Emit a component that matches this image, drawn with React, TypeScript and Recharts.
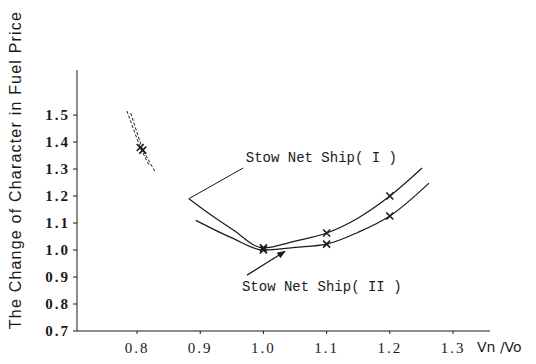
import {
  ComposedChart,
  Line,
  ReferenceDot,
  ReferenceLine,
  Scatter,
  XAxis,
  YAxis,
} from "recharts";

type Pt = { x: number; y: number };

const INK = "#1a1a1a";

const X_TICKS = [0.8, 0.9, 1.0, 1.1, 1.2, 1.3];
const Y_TICKS = [0.7, 0.8, 0.9, 1.0, 1.1, 1.2, 1.3, 1.4, 1.5];

// short dashed stubs near Vn/Vo = 0.8
const shipIEarly: Pt[] = [
  { x: 0.784, y: 1.515 },
  { x: 0.805, y: 1.38 },
  { x: 0.82, y: 1.31 },
];
const shipIIEarly: Pt[] = [
  { x: 0.79, y: 1.507 },
  { x: 0.809, y: 1.37 },
  { x: 0.828, y: 1.293 },
];

const shipI: Pt[] = [
  { x: 0.882, y: 1.19 },
  { x: 0.92, y: 1.125 },
  { x: 0.95, y: 1.078 },
  { x: 1.0, y: 1.008 },
  { x: 1.05, y: 1.033 },
  { x: 1.1, y: 1.063 },
  { x: 1.15, y: 1.119 },
  { x: 1.2, y: 1.2 },
  { x: 1.251, y: 1.304 },
];
const shipII: Pt[] = [
  { x: 0.893, y: 1.11 },
  { x: 0.95, y: 1.045 },
  { x: 1.0, y: 1.0 },
  { x: 1.05, y: 1.01 },
  { x: 1.1, y: 1.022 },
  { x: 1.15, y: 1.066 },
  { x: 1.2, y: 1.126 },
  { x: 1.262, y: 1.248 },
];

const marksI: Pt[] = [
  { x: 0.805, y: 1.38 },
  { x: 1.0, y: 1.008 },
  { x: 1.1, y: 1.063 },
  { x: 1.2, y: 1.2 },
];
const marksII: Pt[] = [
  { x: 0.809, y: 1.37 },
  { x: 1.0, y: 1.0 },
  { x: 1.1, y: 1.022 },
  { x: 1.2, y: 1.126 },
];

const pointerI: Pt[] = [
  { x: 0.882, y: 1.19 },
  { x: 0.968, y: 1.304 },
];
const pointerII: Pt[] = [
  { x: 0.974, y: 0.907 },
  { x: 1.034, y: 0.995 },
];
const labelI: Pt = { x: 0.972, y: 1.344 };
const labelII: Pt = { x: 0.966, y: 0.868 };

const tickFont = {
  fontFamily: "'Liberation Serif', serif",
  fontSize: 15,
  fill: INK,
  letterSpacing: 2,
} as const;

const noteFont = {
  fontFamily: "'Liberation Mono', monospace",
  fontSize: 14,
  fill: INK,
} as const;

function Cross(props: { cx?: number; cy?: number }) {
  const { cx = 0, cy = 0 } = props;
  const s = 3.5;
  return (
    <path
      d={`M${cx - s},${cy - s}L${cx + s},${cy + s}M${cx + s},${cy - s}L${cx - s},${cy + s}`}
      stroke={INK}
      strokeWidth={1.6}
    />
  );
}

export default function App() {
  return (
    <div style={{ position: "absolute", left: 0, top: 0, background: "#fff" }}>
      <ComposedChart
        width={536}
        height={364}
        margin={{ top: 70, right: 46, bottom: 0, left: 0 }}
      >
        <defs>
          <marker
            id="arrowHead"
            viewBox="0 0 10 10"
            refX="9"
            refY="5"
            markerWidth="7"
            markerHeight="7"
            orient="auto"
          >
            <path d="M0,1 L10,5 L0,9 z" fill={INK} />
          </marker>
        </defs>
        <XAxis
          type="number"
          dataKey="x"
          domain={[0.705, 1.3585]}
          ticks={X_TICKS}
          allowDataOverflow
          height={33}
          tickSize={3}
          tickMargin={4}
          stroke={INK}
          tick={{ ...tickFont, dy: 4 }}
          tickFormatter={(v: number) => v.toFixed(1)}
          label={{
            value: "Vn /Vo",
            position: "right",
            offset: -13,
            style: {
              fontFamily: "'DejaVu Sans', sans-serif",
              fontSize: 14,
              fill: INK,
            },
          }}
        />
        <YAxis
          type="number"
          domain={[0.7, 1.667]}
          ticks={Y_TICKS}
          allowDataOverflow
          width={77}
          tickSize={4}
          tickMargin={3}
          stroke={INK}
          tick={{ ...tickFont, fontWeight: 700 }}
          tickFormatter={(v: number) => v.toFixed(1)}
        />
        <text
          transform="rotate(-90)"
          x={-170}
          y={15}
          textAnchor="middle"
          dominantBaseline="central"
          style={{
            fontFamily: "'Liberation Sans', sans-serif",
            fontSize: 16,
            letterSpacing: 1.2,
            fill: INK,
          }}
        >
          The Change of Character in Fuel Price
        </text>

        <Line
          data={shipIEarly}
          dataKey="y"
          stroke={INK}
          strokeWidth={1}
          strokeDasharray="3 2"
          dot={false}
          isAnimationActive={false}
        />
        <Line
          data={shipIIEarly}
          dataKey="y"
          stroke={INK}
          strokeWidth={1}
          strokeDasharray="3 2"
          dot={false}
          isAnimationActive={false}
        />
        <Line
          data={shipI}
          dataKey="y"
          type="monotone"
          stroke={INK}
          strokeWidth={1.2}
          dot={false}
          isAnimationActive={false}
        />
        <Line
          data={shipII}
          dataKey="y"
          type="monotone"
          stroke={INK}
          strokeWidth={1.2}
          dot={false}
          isAnimationActive={false}
        />
        <Scatter
          data={marksI}
          dataKey="y"
          shape={<Cross />}
          isAnimationActive={false}
        />
        <Scatter
          data={marksII}
          dataKey="y"
          shape={<Cross />}
          isAnimationActive={false}
        />

        <ReferenceLine segment={pointerI} stroke={INK} strokeWidth={1} />
        <ReferenceLine
          segment={pointerII}
          stroke={INK}
          strokeWidth={1.2}
          shape={(p: any) => (
            <line
              x1={p.x1}
              y1={p.y1}
              x2={p.x2}
              y2={p.y2}
              stroke={INK}
              strokeWidth={1.2}
              markerEnd="url(#arrowHead)"
            />
          )}
        />
        <ReferenceDot
          x={labelI.x}
          y={labelI.y}
          r={0}
          stroke="none"
          fill="none"
          label={{ value: "Stow Net Ship( I )", position: "right", offset: 0, style: noteFont }}
        />
        <ReferenceDot
          x={labelII.x}
          y={labelII.y}
          r={0}
          stroke="none"
          fill="none"
          label={{ value: "Stow Net Ship( II )", position: "right", offset: 0, style: noteFont }}
        />
      </ComposedChart>
    </div>
  );
}
